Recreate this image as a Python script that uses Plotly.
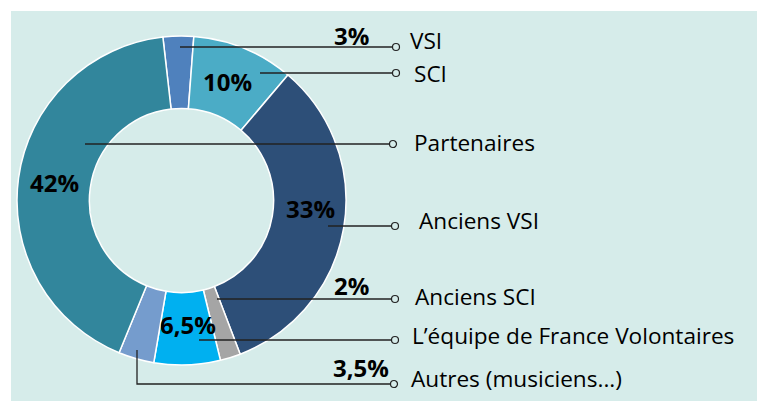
import plotly.graph_objects as go

categories = ["VSI", "SCI", "Anciens VSI", "Anciens SCI",
              "L’équipe de France Volontaires", "Autres (musiciens...)", "Partenaires"]
values = [3, 10, 33, 2, 6.5, 3.5, 42]
pct_labels = ["3%", "10%", "33%", "2%", "6,5%", "3,5%", "42%"]
colors = ["#4f81bd", "#4bacc6", "#2d4f78", "#a5a5a5", "#00b0f0", "#759ccd", "#32869c"]

W, H = 764, 401
BG = "#d6ecea"

# layout positions (pixels)
pct_pos = [(351, 35), (227, 81), (310, 208), (351, 285), (188, 324), (361, 367), (54, 182)]
line_start = [(180, 47), (260, 73), (328, 226), (217, 299), (199, 340), (137, 350), (85, 144)]
circle_pos = [(396, 47), (396, 73), (395, 226), (395, 299), (395, 340), (394, 384), (393, 144)]
name_pos = [(408, 40), (412, 73), (417, 220), (413, 296), (410, 335), (409, 378), (412, 142)]

fig = go.Figure()
fig.add_trace(go.Pie(
    labels=categories, values=values, sort=False, direction="clockwise",
    rotation=-6.5, hole=0.56, textinfo="none", hoverinfo="label+percent",
    marker=dict(colors=colors, line=dict(color="white", width=1.5)),
    domain=dict(x=[17 / W, 346 / W], y=[1 - 365 / H, 1 - 36 / H]),
    showlegend=False,
))

shapes = [dict(type="rect", xref="x", yref="y", x0=11, x1=757, y0=11, y1=401,
               fillcolor=BG, line=dict(width=0), layer="below")]
annotations = []
for i, cat in enumerate(categories):
    sx, sy = line_start[i]
    cx, cy = circle_pos[i]
    if i == 5:
        shapes.append(dict(type="path", xref="x", yref="y",
                           path=f"M{sx},{sy} L{sx},{cy} L{cx - 3},{cy}",
                           line=dict(color="#222", width=1.3), layer="above"))
    else:
        shapes.append(dict(type="line", xref="x", yref="y", x0=sx, y0=sy, x1=cx - 3, y1=cy,
                           line=dict(color="#222", width=1.3), layer="above"))
    shapes.append(dict(type="circle", xref="x", yref="y", x0=cx - 3.5, x1=cx + 3.5,
                       y0=cy - 3.5, y1=cy + 3.5, fillcolor=BG,
                       line=dict(color="#222", width=1.2), layer="above"))
    px, py = pct_pos[i]
    annotations.append(dict(x=px, y=py, xref="x", yref="y", text=f"<b>{pct_labels[i]}</b>",
                            showarrow=False, font=dict(size=24, color="black", family="Open Sans")))
    nx, ny = name_pos[i]
    annotations.append(dict(x=nx, y=ny, xref="x", yref="y", text=cat, xanchor="left",
                            showarrow=False, font=dict(size=22.6, color="black", family="Open Sans")))

fig.update_layout(
    width=W, height=H, margin=dict(l=0, r=0, t=0, b=0),
    paper_bgcolor="white", plot_bgcolor="rgba(0,0,0,0)",
    xaxis=dict(range=[0, W], visible=False, fixedrange=True),
    yaxis=dict(range=[H, 0], visible=False, fixedrange=True),
    shapes=shapes, annotations=annotations,
)
fig.write_html("out.html", config={"displayModeBar": False},
               post_script="document.body.style.margin='0';document.body.style.overflow='hidden';")
